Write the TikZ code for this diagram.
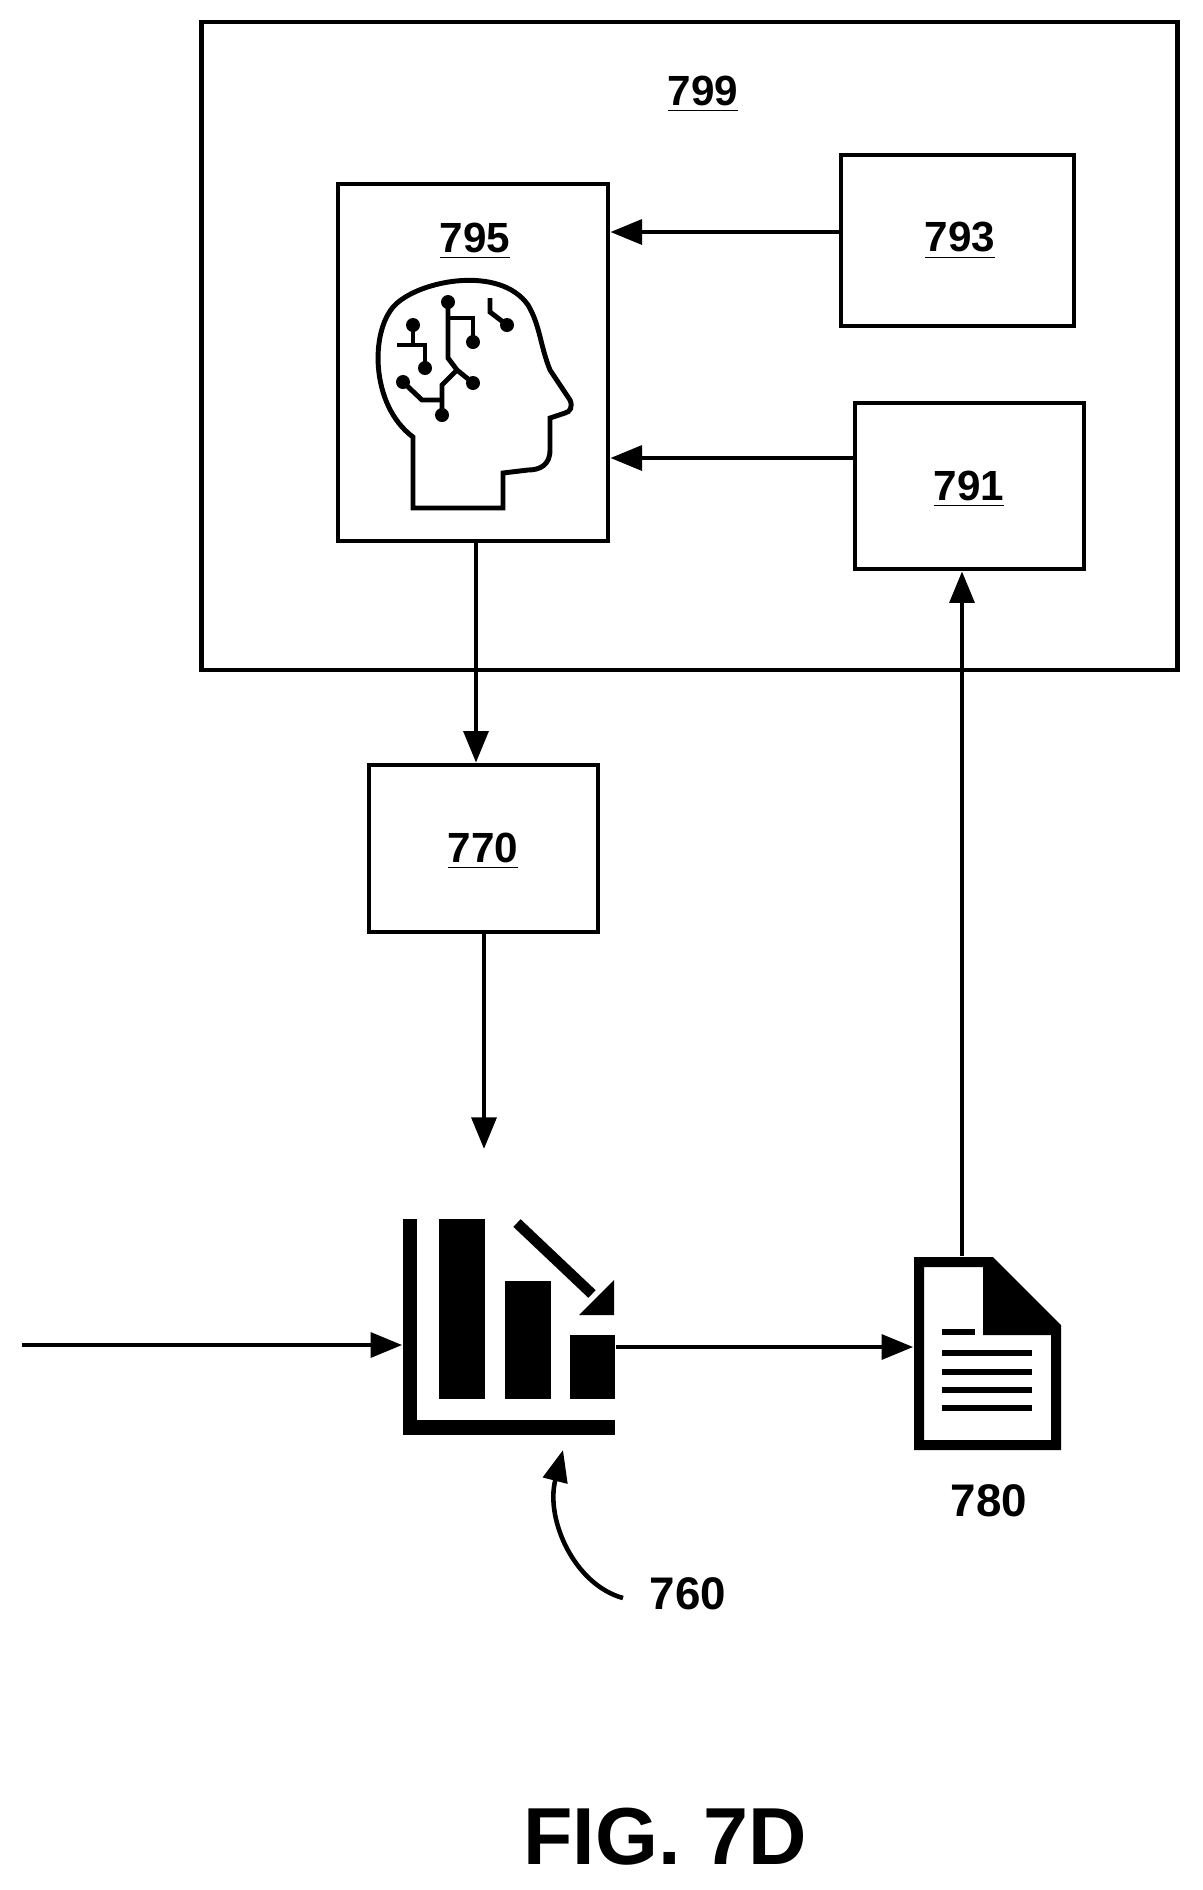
\documentclass[tikz,border=0pt]{standalone}
\usepackage{fontspec}
\setmainfont{Liberation Sans}
\usetikzlibrary{arrows.meta}
\begin{document}
\begin{tikzpicture}[x=0.01cm,y=-0.01cm,
  box/.style={draw,line width=1.3pt},
  lab/.style={font=\bfseries\fontsize{12}{14}\selectfont},
  arr/.style={line width=1.3pt,-{Triangle[length=9pt,width=7pt]}},
  ic/.style={line width=1.4pt}]
\useasboundingbox (0,0) rectangle (1203,1890);
\node[box,minimum width=9.75cm,minimum height=6.48cm,inner sep=0pt] (b799) at (689.5,346) {};
\node[lab] (l799) at (703,94) {\underline{799}};
\node[box,minimum width=2.7cm,minimum height=3.57cm,inner sep=0pt] (b795) at (473,362.5) {};
\node[lab] (l795) at (475,241) {\underline{795}};
\node[box,minimum width=2.33cm,minimum height=1.71cm,inner sep=0pt] (b793) at (957.5,240.5) {};
\node[lab] (l793) at (960,241) {\underline{793}};
\node[box,minimum width=2.29cm,minimum height=1.66cm,inner sep=0pt] (b791) at (969.5,486) {};
\node[lab] (l791) at (969,489) {\underline{791}};
\node[box,minimum width=2.29cm,minimum height=1.67cm,inner sep=0pt] (b770) at (483.5,848.5) {};
\node[lab] (l770) at (483,851) {\underline{770}};
% head icon
\draw[ic] (413,508) -- (413,437) .. controls (370,405) and (370,330) .. (395,305)
  .. controls (420,280) and (500,265) .. (528,305) .. controls (540,325) and (540,345) .. (550,370)
  -- (570,400) .. controls (573,407) and (570,412) .. (565,413) -- (550,418) -- (550,450)
  .. controls (550,465) and (540,470) .. (528,470) -- (503,473) -- (503,508) -- cycle;
\draw[ic] (448,302) -- (448,358) -- (457,370) -- (473,383);
\draw[ic] (448,318) -- (473,318) -- (473,342);
\draw[ic] (457,370) -- (442,385) -- (442,415);
\draw[ic] (403,382) -- (422,400) -- (442,400);
\draw[ic] (413,325) -- (413,345); \draw[ic] (397,345) -- (425,345) -- (425,368);
\draw[ic] (490,298) -- (490,312) -- (507,325);
\foreach \p in {(448,302),(473,342),(473,383),(442,415),(403,382),(413,325),(425,368),(507,325)}
  \fill \p circle (7);
% arrows
\draw[arr] (b793.west |- 0,232) -- (b795.east |- 0,232);
\draw[arr] (b791.west |- 0,458) -- (b795.east |- 0,458);
\draw[arr] (b795.south -| 476,0) -- (b770.north -| 476,0);
\coordinate (c760top) at (484,1149);
\draw[arr] (b770.south -| 484,0) -- (c760top);
% chart
\fill (403,1219) rectangle (417,1435);
\fill (403,1420) rectangle (615,1435);
\fill (439,1219) rectangle (485,1399);
\fill (505,1281) rectangle (551,1399);
\fill (570,1335) rectangle (615,1399);
\draw[line width=3pt] (517,1223) -- (592,1294);
\fill (614,1315) -- (614,1280) -- (579,1315) -- cycle;
\node[minimum width=2.12cm,minimum height=2.16cm,inner sep=0pt] (n760) at (509,1327) {};
\coordinate (inl) at (22,1345);
\draw[arr] (inl) -- (n760.west |- inl);
% document
\node[minimum width=1.47cm,minimum height=1.93cm,inner sep=0pt] (n780) at (987.5,1353.5) {};
\fill[even odd rule] (914,1257) -- (993,1257) -- (1061,1325) -- (1061,1450) -- (914,1450) -- cycle
  (924,1267) -- (983,1267) -- (983,1335) -- (1051,1335) -- (1051,1440) -- (924,1440) -- cycle;
\fill (993,1272) -- (993,1325) -- (1046,1325) -- cycle;
\foreach \y in {1353,1372,1390,1408} \fill (942,\y-3) rectangle (1032,\y+3);
\fill (942,1329) rectangle (975,1335);
\draw[arr] (n760.east |- 0,1347) -- (n780.west |- 0,1347);
\draw[arr] (n780.north -| 962,0) -- (b791.south -| 962,0);
\node[font=\bfseries\fontsize{13}{15}\selectfont] (l780) at (989,1501) {780};
\node[font=\bfseries\fontsize{13}{15}\selectfont] (l760) at (688,1594) {760};
\draw[arr] (623,1598) .. controls (575,1585) and (545,1520) .. (563,1450);
\node[font=\bfseries\fontsize{23}{26}\selectfont] (fig) at (665,1837) {FIG. 7D};
\end{tikzpicture}
\end{document}
